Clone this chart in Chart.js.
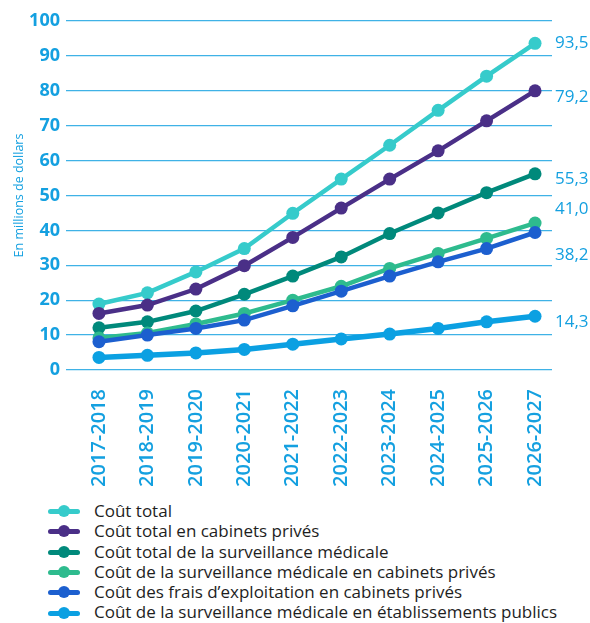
<!doctype html>
<html lang="fr">
<head>
  <meta charset="UTF-8">
  <title>Coûts projetés</title>
  <script src="https://cdn.jsdelivr.net/npm/chart.js"></script>
  <style>
    html, body { margin: 0; padding: 0; background: #fff; }
    #wrap { position: relative; width: 590px; height: 623px; }
    #box { position: absolute; left: 0; top: 0; width: 590px; height: 495px; }
    #legend { position: absolute; left: 48px; top: 501px; font-family: "Open Sans", sans-serif; font-size: 17px; color: #1e1e1e; }
    .row { height: 20.3px; line-height: 20.3px; display: flex; align-items: center; white-space: nowrap; }
    .mk { position: relative; width: 32px; height: 12px; margin-right: 14px; }
    .mk .ln { position: absolute; left: 0; top: 4px; width: 32px; height: 5px; border-radius: 3px; }
    .mk .dot { position: absolute; left: 10px; top: 0; width: 12px; height: 12px; border-radius: 50%; }
  </style>
</head>
<body>
<div id="wrap">
  <div id="box"><canvas id="chart"></canvas></div>
  <div id="legend"></div>
</div>
<script>
  const years = ['2017-2018', '2018-2019', '2019-2020', '2020-2021', '2021-2022',
                 '2022-2023', '2023-2024', '2024-2025', '2025-2026', '2026-2027'];

  const seriesNames = [
    'Coût total',
    'Coût total en cabinets privés',
    'Coût total de la surveillance médicale',
    'Coût de la surveillance médicale en cabinets privés',
    'Coût des frais d\u2019exploitation en cabinets privés',
    'Coût de la surveillance médicale en établissements publics'
  ];

  const coutTotal      = [18.9, 22.1, 28.1, 34.8, 44.9, 54.7, 64.4, 74.4, 84.2, 93.6];
  const totalPrives    = [16.2, 18.6, 23.2, 29.9, 38.0, 46.4, 54.7, 62.8, 71.4, 80.0];
  const totalSurv      = [12.1, 13.8, 16.9, 21.7, 26.9, 32.4, 39.1, 45.0, 50.8, 56.2];
  const survPrives     = [9.2, 10.6, 13.2, 16.2, 20.0, 24.0, 29.1, 33.4, 37.7, 42.1];
  const fraisPrives    = [8.1, 10.0, 11.9, 14.3, 18.4, 22.6, 26.9, 31.0, 34.8, 39.4];
  const survPublics    = [3.6, 4.2, 4.9, 5.9, 7.4, 8.9, 10.3, 11.9, 13.8, 15.4];

  const endLabels = ['93,5', '79,2', '55,3', '41,0', '38,2', '14,3'];
  const yTicks = [0, 10, 20, 30, 40, 50, 60, 70, 80, 90, 100];

  const colors = ['#36cbcb', '#4a2f87', '#00897b', '#2ebb8e', '#1c5fcf', '#0ba0e2'];
  const widths = [4.5, 4.5, 4.5, 4.5, 4.5, 5.5];
  const labelShift = [0, 6, 5, -14, 23, 6]; // décalage vertical des étiquettes de fin
  const blue = '#14a0e0';

  const allSeries = [coutTotal, totalPrives, totalSurv, survPrives, fraisPrives, survPublics];

  const endLabelPlugin = {
    id: 'endLabels',
    afterDatasetsDraw(chart) {
      const ctx = chart.ctx;
      const y = chart.scales.y;
      ctx.save();
      ctx.font = '17px "Open Sans"';
      ctx.fillStyle = blue;
      ctx.textAlign = 'left';
      ctx.textBaseline = 'middle';
      allSeries.forEach((s, i) => {
        ctx.fillText(endLabels[i], chart.chartArea.right + 3, y.getPixelForValue(s[s.length - 1]) + labelShift[i]);
      });
      ctx.restore();
    }
  };

  const ctx = document.getElementById('chart').getContext('2d');
  const chart = new Chart(ctx, {
    type: 'line',
    data: {
      datasets: allSeries.map((s, i) => ({
        label: seriesNames[i],
        data: s.map((v, k) => ({x: k, y: v})),
        borderColor: colors[i],
        backgroundColor: colors[i],
        borderWidth: widths[i],
        pointRadius: 6.5,
        pointBorderWidth: 0,
        pointHoverRadius: 6.5,
        order: allSeries.length - 1 - i,
        tension: 0
      }))
    },
    options: {
      responsive: true,
      maintainAspectRatio: false,
      animation: false,
      layout: {padding: {top: 21, right: 38, left: 0, bottom: 0}},
      plugins: {legend: {display: false}, tooltip: {enabled: false}},
      scales: {
        x: {
          type: 'linear',
          min: -0.68,
          max: 9.35,
          afterBuildTicks: axis => { axis.ticks = years.map((_, k) => ({value: k})); },
          afterFit: axis => { axis.height = 125; },
          grid: {display: false},
          border: {display: false},
          ticks: {
            autoSkip: false,
            minRotation: 90,
            maxRotation: 90,
            padding: 11,
            color: blue,
            font: {family: 'Open Sans', size: 20, weight: '600'},
            callback: v => years[v]
          }
        },
        y: {
          min: 0,
          max: 100,
          afterBuildTicks: axis => { axis.ticks = yTicks.map(v => ({value: v})); },
          afterFit: axis => { axis.width = 66; },
          grid: {color: '#3fb2e6', lineWidth: 1.3, drawTicks: false},
          border: {display: false},
          ticks: {
            padding: 6,
            color: blue,
            font: {family: 'Open Sans', size: 18, weight: 'bold'}
          },
          title: {
            display: true,
            text: 'En millions de dollars',
            color: blue,
            padding: {top: 12, bottom: 0},
            font: {family: 'Open Sans', size: 12.5}
          }
        }
      }
    },
    plugins: [endLabelPlugin]
  });

  const legend = document.getElementById('legend');
  seriesNames.forEach((name, i) => {
    const row = document.createElement('div');
    row.className = 'row';
    row.innerHTML = '<span class="mk"><span class="ln" style="background:' + colors[i] + '"></span>' +
      '<span class="dot" style="background:' + colors[i] + '"></span></span><span>' + name + '</span>';
    legend.appendChild(row);
  });
</script>
</body>
</html>
